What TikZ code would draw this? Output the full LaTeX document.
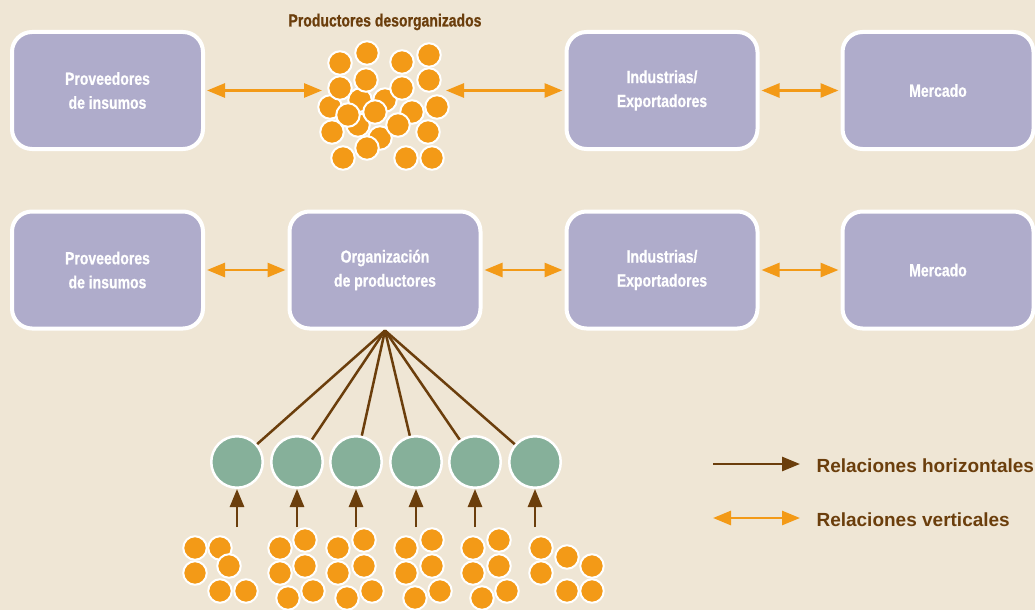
\documentclass[tikz,border=0pt]{standalone}
\usepackage{fontspec}
\setmainfont{Liberation Sans}
\newfontfamily\cond[FakeStretch=0.8, FakeBold=0.8]{Liberation Sans}
\usetikzlibrary{arrows.meta}
\definecolor{bg}{HTML}{EFE6D5}
\definecolor{lav}{HTML}{AFACCB}
\definecolor{orng}{HTML}{F39A17}
\definecolor{brwn}{HTML}{6B3E0C}
\definecolor{grn}{HTML}{86B09A}
\tikzset{
  box/.style={draw=white, line width=4pt, fill=lav, rounded corners=20pt,
    minimum width=191pt, minimum height=117pt, text=white, align=center,
    font=\cond\bfseries\fontsize{17.5}{24}\selectfont},
  odot/.style={circle, fill=orng, draw=white, line width=2pt,
    minimum size=23.5pt, inner sep=0pt},
  gdot/.style={circle, fill=grn, draw=white, line width=2.5pt,
    minimum size=51.5pt, inner sep=0pt},
  varr/.style={draw=orng, line width=2.7pt,
    {Triangle[length=18pt,width=14pt]}-{Triangle[length=18pt,width=14pt]}},
  harr/.style={draw=brwn, line width=2.7pt, -{Triangle[length=18pt,width=14pt]}},
  hline/.style={draw=brwn, line width=2.5pt},
  lgd/.style={anchor=west, text=brwn, font=\bfseries\fontsize{19}{22}\selectfont},
}
\begin{document}
\begin{tikzpicture}[x=1pt, y=-1pt]
\fill[bg] (0,0) rectangle (1035,610);
\useasboundingbox (0,0) rectangle (1035,610);

% upper chain
\node[box] (p1) at (107.5,90.5) {Proveedores\\de insumos};
\node[box] (i1) at (662,90.5) {Industrias/\\Exportadores};
\node[box] (m1) at (938,90.5) {Mercado};
\node[text=brwn, font=\cond\bfseries\fontsize{17.5}{20}\selectfont] (tt) at (385,22) {Productores desorganizados};

% scattered producers
\foreach \x/\y [count=\i] in {330/107, 360/100, 358/125, 380/138, 412/112, 385/100,
    340/63, 367/53, 402/62, 429/55, 366/80, 340/88, 429/80, 402/88, 437/107,
    348/115, 375/112, 398/125, 332/132, 428/132, 367/148, 343/158, 406/158, 432/158}
  \node[odot] (d\i) at (\x,\y) {};
\coordinate (cw) at (322,90.5);
\coordinate (ce) at (446,90.5);

\draw[varr, shorten <=2pt] (p1.east) -- (cw);
\draw[varr, shorten >=2pt] (ce) -- (i1.west);
\draw[varr, shorten <=2pt, shorten >=2pt] (i1.east) -- (m1.west);

% lower chain
\node[box] (p2) at (107.5,270) {Proveedores\\de insumos};
\node[box] (o2) at (385,270) {Organización\\de productores};
\node[box] (i2) at (662,270) {Industrias/\\Exportadores};
\node[box] (m2) at (938,270) {Mercado};
\draw[varr, shorten <=2pt, shorten >=2pt] (p2.east) -- (o2.west);
\draw[varr, shorten <=2pt, shorten >=2pt] (o2.east) -- (i2.west);
\draw[varr, shorten <=2pt, shorten >=2pt] (i2.east) -- (m2.west);

% member groups
\foreach \x [count=\i] in {237,297,356,416,475,535} {
  \node[gdot] (g\i) at (\x,462) {};
  \draw[hline] (o2.south) -- (g\i);
  \coordinate (u\i) at (\x,527);
  \draw[harr] (u\i) -- (g\i.south);
}

% small producer clusters
\foreach \x/\y [count=\i] in {195/548, 220/548, 195/573, 229/566, 220/591, 246/591,
    280/548, 305/540, 280/573, 305/566, 288/598, 313/591,
    338/548, 364/540, 338/573, 364/566, 347/598, 372/591,
    406/548, 432/540, 406/573, 432/566, 415/598, 440/591,
    473/548, 499/540, 473/573, 499/566, 482/598, 507/591,
    541/548, 567/557, 541/573, 592/566, 567/591, 592/591}
  \node[odot] (s\i) at (\x,\y) {};

% legend
\coordinate (la) at (713,464);
\coordinate (lb) at (800,464);
\coordinate (lc) at (713,518);
\coordinate (ld) at (800,518);
\draw[harr] (la) -- (lb);
\draw[varr] (lc) -- (ld);
\node[lgd] (lt1) at (813,466) {Relaciones horizontales};
\node[lgd] (lt2) at (813,520) {Relaciones verticales};
\end{tikzpicture}
\end{document}
